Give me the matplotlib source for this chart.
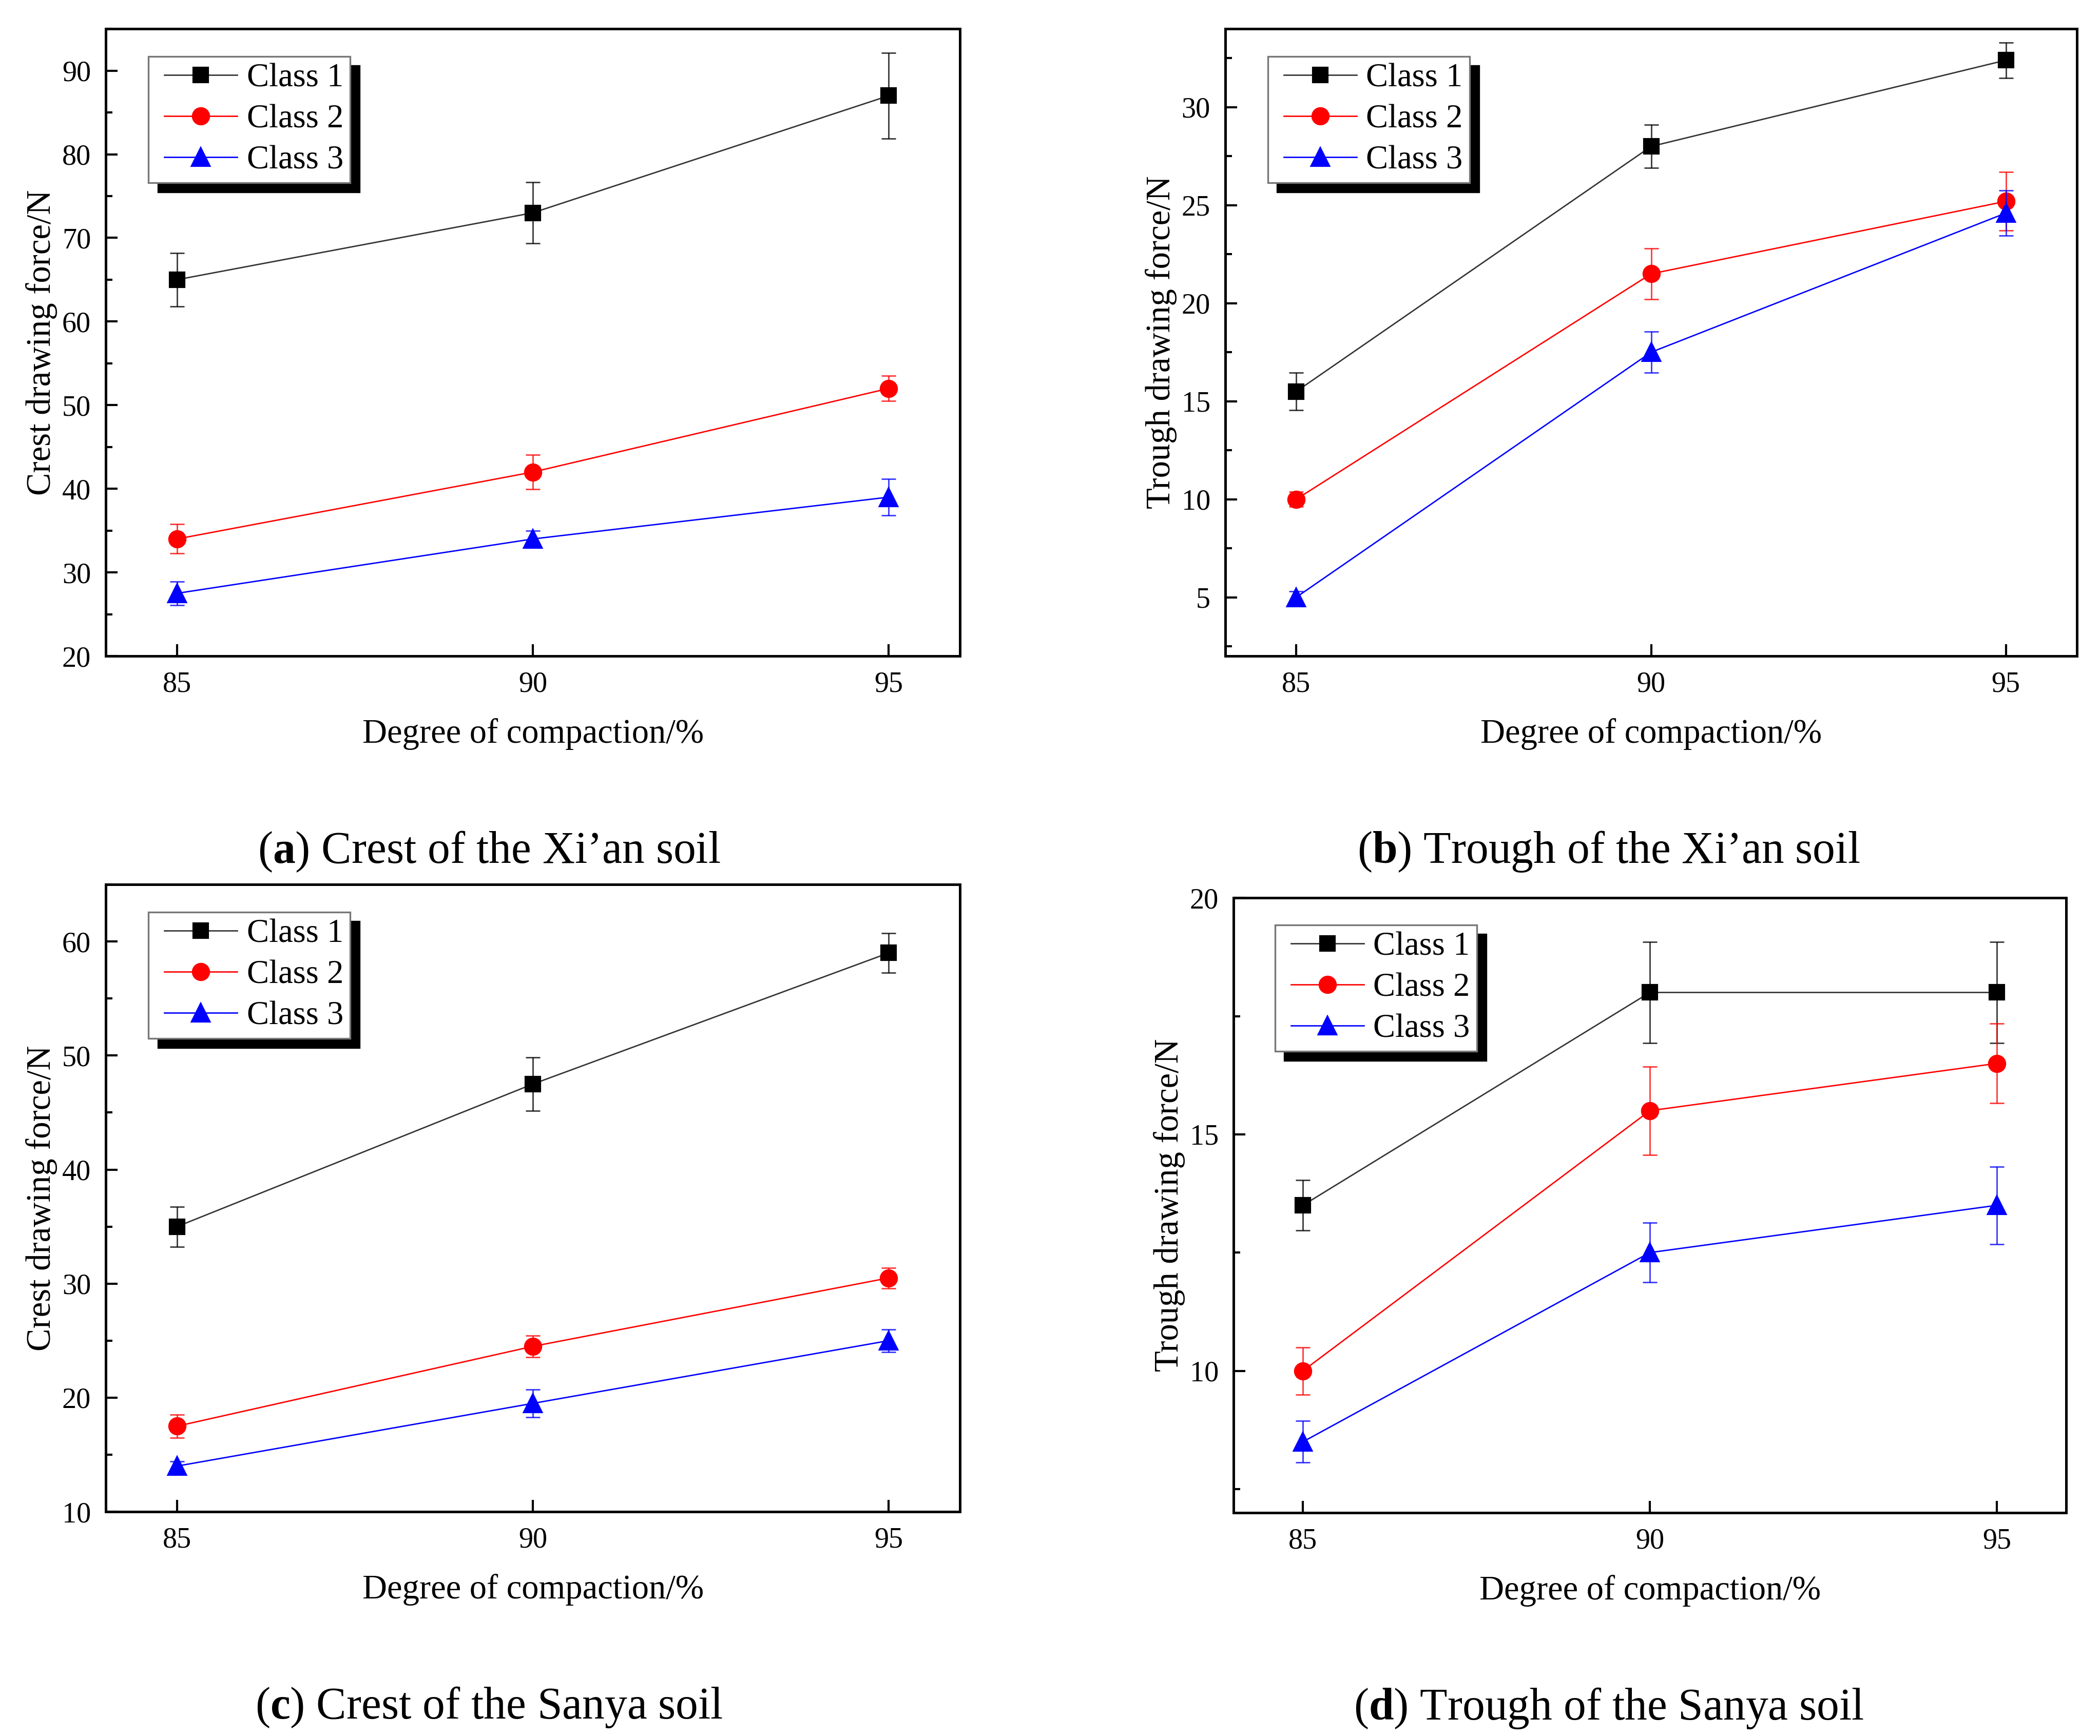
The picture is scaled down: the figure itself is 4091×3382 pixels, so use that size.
import matplotlib
matplotlib.use("Agg")
import matplotlib.pyplot as plt
from matplotlib.ticker import MultipleLocator
from matplotlib.lines import Line2D
from matplotlib.legend_handler import HandlerLine2D
from matplotlib import font_manager as fm

plt.rcParams["font.family"] = "serif"
plt.rcParams["font.serif"] = ["Liberation Serif", "DejaVu Serif"]
plt.rcParams["mathtext.fontset"] = "custom"
plt.rcParams["mathtext.rm"] = "Liberation Serif"
plt.rcParams["mathtext.bf"] = "Liberation Serif:bold"

SERIF = "Liberation Serif"

compaction = [85, 90, 95]
classes = ["Class 1", "Class 2", "Class 3"]

# (a) crest, Xi'an soil
xian_crest = [[65, 73, 87], [34, 42, 52], [27.5, 34, 39]]
xian_crest_err = [[3.2, 3.65, 5.1], [1.75, 2.05, 1.5], [1.4, 1.0, 2.2]]
# (b) trough, Xi'an soil
xian_trough = [[15.5, 28.0, 32.4], [10.0, 21.5, 25.2], [5.0, 17.5, 24.6]]
xian_trough_err = [[0.95, 1.1, 0.9], [0.37, 1.3, 1.5], [0.3, 1.05, 1.15]]
# (c) crest, Sanya soil
sanya_crest = [[35, 47.5, 59], [17.5, 24.5, 30.5], [14.0, 19.5, 25.0]]
sanya_crest_err = [[1.75, 2.35, 1.75], [1.0, 0.95, 0.9], [0.4, 1.2, 1.0]]
# (d) trough, Sanya soil
sanya_trough = [[13.5, 18.0, 18.0], [10.0, 15.5, 16.5], [8.5, 12.5, 13.5]]
sanya_trough_err = [[0.53, 1.07, 1.07], [0.5, 0.93, 0.84], [0.44, 0.63, 0.82]]

colors = ["black", "red", "blue"]
line_colors = ["#333333", "red", "blue"]
markers = ["s", "o", "^"]
msizes = [6.5, 7.5, 8]

panels = [
    dict(vals=xian_crest, errs=xian_crest_err, ylabel="Crest drawing force/N",
         ylim=(20, 95), major=10, minor=5, letter="a",
         caption=" Crest of the Xi\u2019an soil",
         rect=[0.0504, 0.6221, 0.4067, 0.3613]),
    dict(vals=xian_trough, errs=xian_trough_err, ylabel="Trough drawing force/N",
         ylim=(2, 34), major=5, minor=2.5, letter="b",
         caption=" Trough of the Xi\u2019an soil",
         rect=[0.5835, 0.6221, 0.4055, 0.3613]),
    dict(vals=sanya_crest, errs=sanya_crest_err, ylabel="Crest drawing force/N",
         ylim=(10, 65), major=10, minor=5, letter="c",
         caption=" Crest of the Sanya soil",
         rect=[0.0504, 0.1292, 0.4067, 0.3613]),
    dict(vals=sanya_trough, errs=sanya_trough_err, ylabel="Trough drawing force/N",
         ylim=(7, 20), major=5, minor=2.5, letter="d",
         caption=" Trough of the Sanya soil",
         rect=[0.5874, 0.1286, 0.3965, 0.3542]),
]

fig = plt.figure(figsize=(4091 / 300, 3382 / 300), dpi=300)

for p in panels:
    ax = fig.add_axes(p["rect"])
    for i in range(3):
        ax.errorbar(compaction, p["vals"][i], yerr=p["errs"][i], fmt="none",
                    ecolor=colors[i], elinewidth=0.7, capsize=3.3, capthick=0.7,
                    alpha=0.75)
        ax.plot(compaction, p["vals"][i], color=line_colors[i], lw=0.65,
                marker=markers[i], markersize=msizes[i],
                markerfacecolor=colors[i], markeredgecolor=colors[i],
                label=classes[i])
    ax.set_xlim(84, 96)
    ax.set_ylim(*p["ylim"])
    ax.set_xticks(compaction)
    ax.yaxis.set_major_locator(MultipleLocator(p["major"]))
    ax.yaxis.set_minor_locator(MultipleLocator(p["minor"]))
    ax.tick_params(axis="both", which="major", direction="in", length=5.5,
                   width=1.0, labelsize=13.5, pad=7, labelfontfamily=SERIF)
    ax.tick_params(axis="both", which="minor", direction="in", length=3,
                   width=1.0)
    ax.tick_params(axis="x", which="minor", bottom=False)
    for s in ax.spines.values():
        s.set_linewidth(1.2)
    ax.set_xlabel("Degree of compaction/%", fontsize=16, labelpad=9.5,
                  family=SERIF)
    ax.set_ylabel(p["ylabel"], fontsize=16, labelpad=2, family=SERIF)
    leg = ax.legend(loc="upper left", bbox_to_anchor=(0.05, 0.956),
                    borderaxespad=0,
                    prop=fm.FontProperties(family=SERIF, size=15.5),
                    handler_map={Line2D: HandlerLine2D(numpoints=1, xpad=0.28)},
                    handlelength=2.48, handletextpad=0.28, labelspacing=0.32,
                    borderpad=0.2, fancybox=False, framealpha=1,
                    edgecolor="#777777",
                    shadow={"ox": 4.4, "oy": -4.4, "facecolor": "black",
                            "edgecolor": "black", "alpha": 1})
    leg.get_frame().set_linewidth(0.8)

    r = p["rect"]
    cy = r[1] - (0.6221 - (1 - 1659 / 3382))
    fig.text(0.2328 if r[0] < 0.5 else 0.766, cy,
             "($\\mathbf{" + p["letter"] + "}$)" + p["caption"],
             ha="center", va="center", fontsize=21, family=SERIF)

fig.savefig("out.png", dpi=300, facecolor="white")
